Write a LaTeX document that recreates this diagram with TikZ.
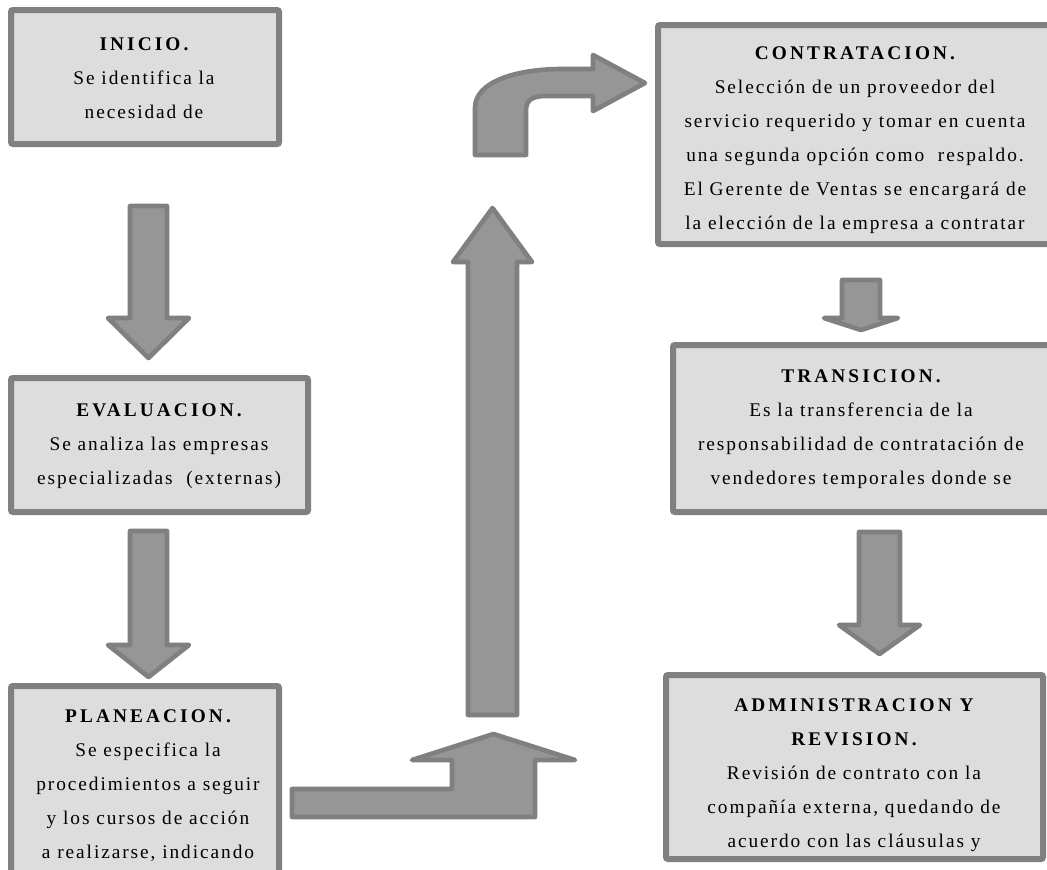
\documentclass[tikz,border=0pt]{standalone}
\usepackage{fontspec}
\setmainfont{Liberation Serif}
\newfontfamily\cuerpofont[LetterSpace=10]{Liberation Serif}
\newfontfamily\titulofont[LetterSpace=16]{Liberation Serif}
\usetikzlibrary{fit}
\definecolor{borde}{RGB}{128,128,128}
\definecolor{caja}{RGB}{221,221,221}
\definecolor{flecha}{RGB}{150,150,150}
\newcommand{\etapa}[1]{{\titulofont\bfseries #1}}

\tikzset{
  etapabox/.style={draw=borde, fill=caja, line width=4.5pt, rounded corners=1.5pt, inner sep=0pt},
  etapatexto/.style={align=center, inner sep=0pt, font=\cuerpofont\fontsize{14.5pt}{25.5pt}\selectfont},
  bloque/.style={draw=borde, fill=flecha, line width=3.5pt, line join=round},
}

\begin{document}
\begin{tikzpicture}[x=0.75pt,y=0.75pt,yscale=-1,xscale=1]
\useasboundingbox (0,0) rectangle (1047,869);
\clip (0,0) rectangle (1047,869);

%Shape: Boxes (left column)
\node[etapabox, fit={(11,10) (279,144)}] (inicio) {};
\node[etapabox, fit={(11,378) (308,512)}] (evaluacion) {};
\node[etapabox, fit={(11,686) (279,900)}] (planeacion) {};
%Shape: Boxes (right column)
\node[etapabox, fit={(658,25) (1052,244)}] (contratacion) {};
\node[etapabox, fit={(673,345) (1052,512)}] (transicion) {};
\node[etapabox, fit={(666,675) (1043,859)}] (administracion) {};

%Shape: Down Arrow
\draw[bloque] (130,206) -- (167,206) -- (167,318) -- (189,318) -- (148.5,358) -- (108,318) -- (130,318) -- cycle ;
%Shape: Down Arrow
\draw[bloque] (130,531) -- (167,531) -- (167,645) -- (189,645) -- (148.5,677) -- (108,645) -- (130,645) -- cycle ;
%Shape: Bent-Up Arrow
\draw[bloque] (292,817) -- (535,817) -- (535,760) -- (575,760) -- (493.5,734) -- (412,760) -- (452,760) -- (452,789) -- (292,789) -- cycle ;
%Shape: Up Arrow
\draw[bloque] (468,715) -- (517,715) -- (517,262) -- (532,262) -- (492.5,208) -- (453,262) -- (468,262) -- cycle ;
%Shape: Bent Arrow
\draw[bloque] (475,155) -- (475,108) .. controls (475,82) and (515,69) .. (563,69) -- (593,69) -- (593,55) -- (645,83) -- (593,111) -- (593,96) -- (545,96) .. controls (533,96) and (526,100) .. (526,110) -- (526,155) -- cycle ;
%Shape: Down Arrow
\draw[bloque] (842,280) -- (880,280) -- (880,318) -- (898,318) -- (861,330) -- (824,318) -- (842,318) -- cycle ;
%Shape: Down Arrow
\draw[bloque] (859,532) -- (900,532) -- (900,625) -- (920,625) -- (879.5,654) -- (839,625) -- (859,625) -- cycle ;

% Text Node
\node[etapatexto] (inicio txt) at (144,78) {\etapa{INICIO.}\\Se identifica la\\necesidad de};
% Text Node
\node[etapatexto] (evaluacion txt) at (159,446) {\etapa{EVALUACION.}\\Se analiza las empresas\\especializadas~ (externas)};
% Text Node
\node[etapatexto] (planeacion txt) at (148,786) {\etapa{PLANEACION.}\\Se especifica la\\procedimientos a seguir\\y los cursos de acción\\a realizarse, indicando};
% Text Node
\node[etapatexto] (contratacion txt) at (855,140) {\etapa{CONTRATACION.}\\Selección de un proveedor del\\servicio requerido y tomar en cuenta\\una segunda opción como~ respaldo.\\El Gerente de Ventas se encargará de\\la elección de la empresa a contratar};
% Text Node
\node[etapatexto] (transicion txt) at (861,429) {\etapa{TRANSICION.}\\Es la transferencia de la\\responsabilidad de contratación de\\vendedores temporales donde se};
% Text Node
\node[etapatexto] (administracion txt) at (854,775) {\etapa{ADMINISTRACION Y}\\\etapa{REVISION.}\\Revisión de contrato con la\\compañía externa, quedando de\\acuerdo con las cláusulas y};

\end{tikzpicture}
\end{document}
